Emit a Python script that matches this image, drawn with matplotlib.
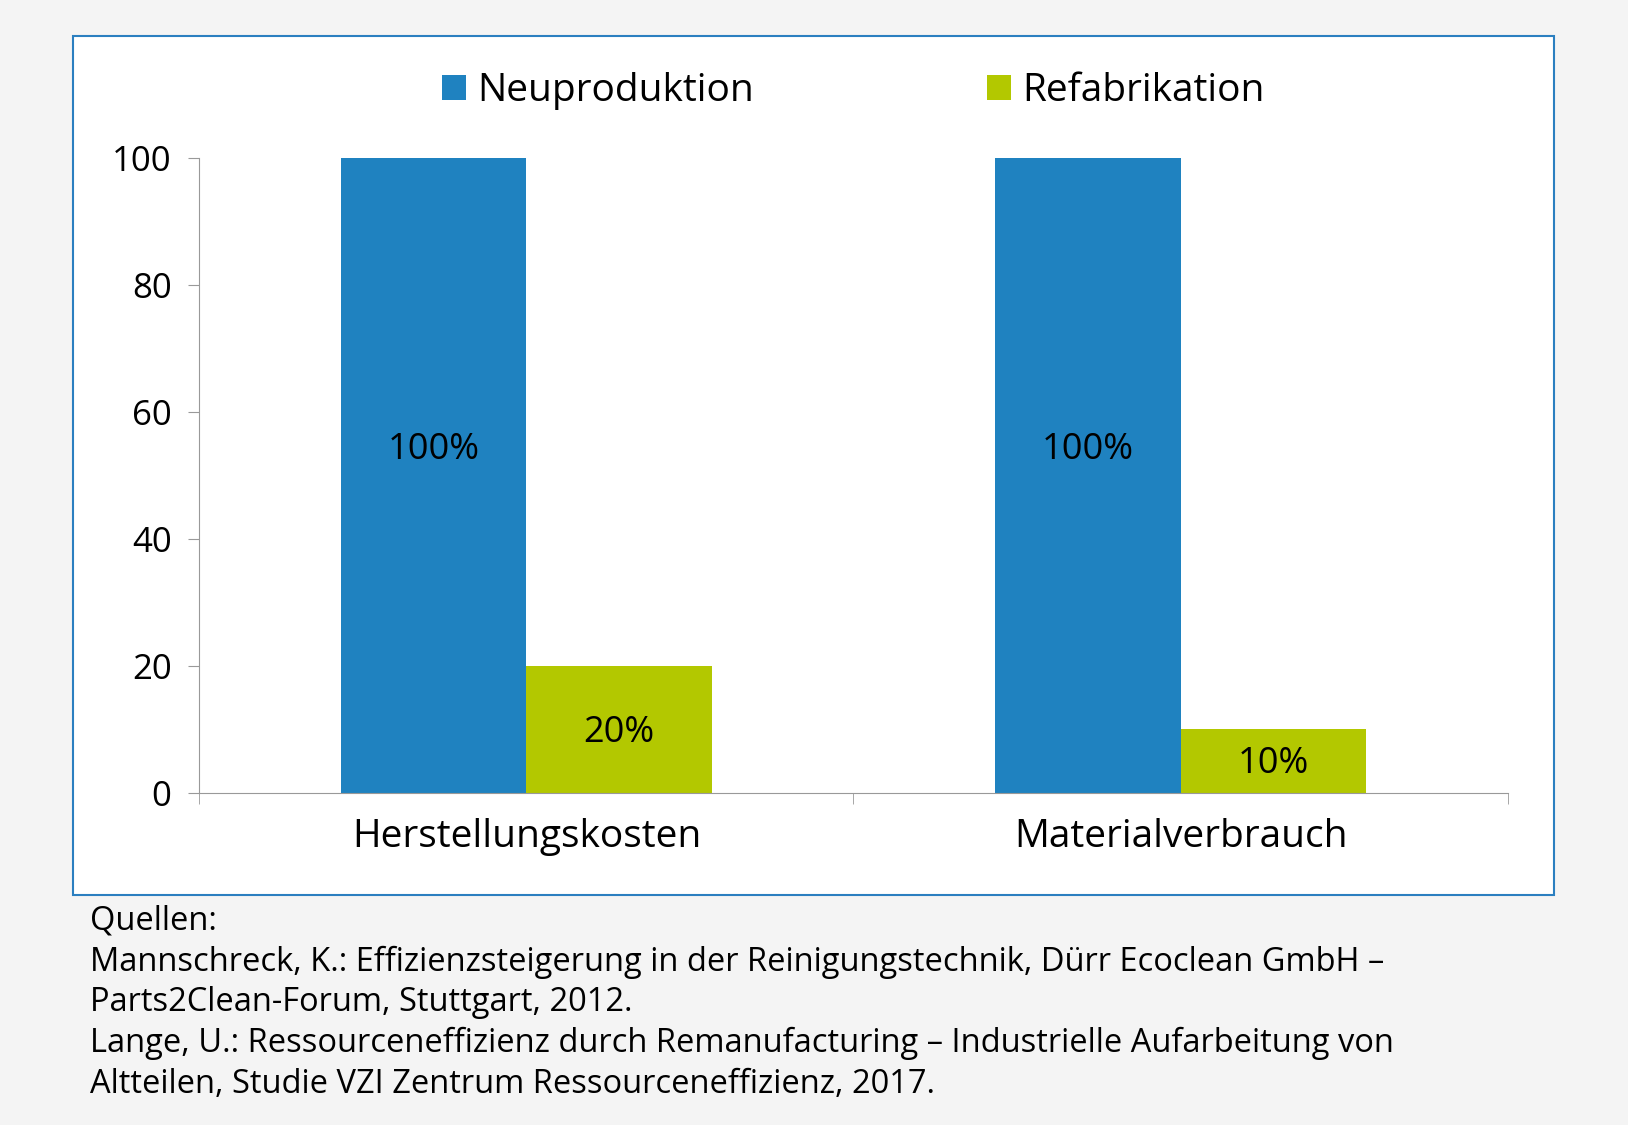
import matplotlib.pyplot as plt
from matplotlib.patches import Rectangle

categories = ['Herstellungskosten', 'Materialverbrauch']
neuproduktion = [100, 100]
refabrikation = [20, 10]
series_names = ['Neuproduktion', 'Refabrikation']
yticks = [0, 20, 40, 60, 80, 100]
sources = ('Quellen:\n'
           'Mannschreck, K.: Effizienzsteigerung in der Reinigungstechnik, Dürr Ecoclean GmbH –\n'
           'Parts2Clean-Forum, Stuttgart, 2012.\n'
           'Lange, U.: Ressourceneffizienz durch Remanufacturing – Industrielle Aufarbeitung von\n'
           'Altteilen, Studie VZI Zentrum Ressourceneffizienz, 2017.')

plt.rcParams['font.family'] = 'Open Sans'
blue = '#1f82c0'
green = '#b3c800'

fig = plt.figure(figsize=(16.28, 11.25), dpi=100, facecolor='#f4f4f4')
# white framed panel
fig.patches.append(Rectangle((70 / 1568, 1 - 862 / 1084), 1427 / 1568, 827 / 1084,
                             transform=fig.transFigure, facecolor='white',
                             edgecolor='#2b7fc0', linewidth=1.5, zorder=-10))

ax = fig.add_axes([192 / 1568, 1 - 764 / 1084, 1260 / 1568, 612 / 1084])
ax.set_zorder(1)
ax.set_facecolor('none')
w = 0.283
x = range(len(categories))
b1 = ax.bar([i - w / 2 for i in x], neuproduktion, w, color=blue, label=series_names[0])
b2 = ax.bar([i + w / 2 for i in x], refabrikation, w, color=green, label=series_names[1])
for bars in (b1, b2):
    for r in bars:
        h = r.get_height()
        ax.text(r.get_x() + r.get_width() / 2, h / 2 + (4 if h > 50 else -0.5), f'{h:.0f}%',
                ha='center', va='center', fontsize=26)

ax.set_xlim(-0.5, 1.5)
ax.set_ylim(0, 100)
ax.set_yticks(yticks)
ax.tick_params(axis='y', labelsize=25, length=8, color='#999999', pad=12)
ax.set_xticks(list(x))
ax.set_xticklabels(categories, fontsize=28)
ax.tick_params(axis='x', length=0, pad=18)
ax.set_xticks([-0.5, 0.5, 1.5], minor=True)
ax.tick_params(axis='x', which='minor', length=8, color='#999999')
for s in ('top', 'right'):
    ax.spines[s].set_visible(False)
for s in ('left', 'bottom'):
    ax.spines[s].set_color('#999999')

ax.legend(loc='lower center', bbox_to_anchor=(0.5, 1.02), ncol=2, frameon=False,
          fontsize=28, handlelength=0.6, handleheight=0.6, handletextpad=0.3,
          columnspacing=6)

fig.text(87 / 1568, 1 - 872 / 1084, sources, fontsize=23.5, va='top', ha='left',
         linespacing=1.3)

fig.savefig('out.png', dpi=100, facecolor=fig.get_facecolor())
